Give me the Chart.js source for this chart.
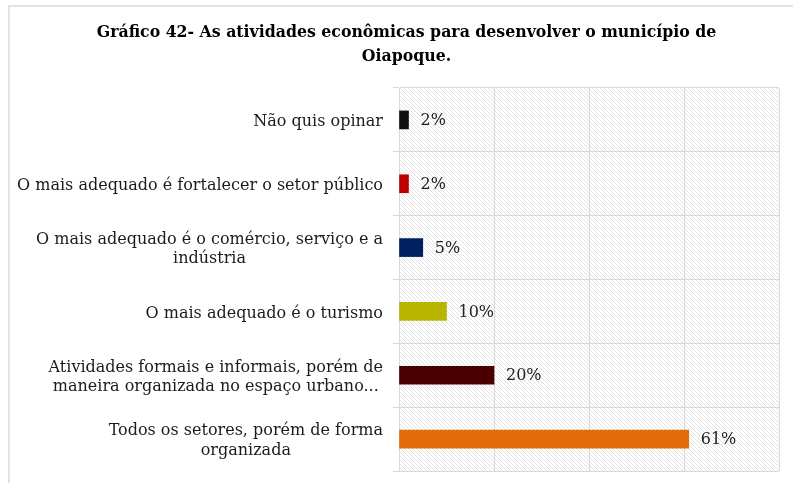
<!DOCTYPE html>
<html>
<head>
<meta charset="utf-8">
<script src="https://cdn.jsdelivr.net/npm/chart.js@4.4.0/dist/chart.umd.min.js"></script>
<style>
  html, body { margin: 0; padding: 0; background: #fff; }
  .frame { position: absolute; left: 8px; top: 5px; width: 820px; height: 520px; border: 2px solid #e3e3e3; }
  #chart { position: absolute; left: 0; top: 0; }
</style>
</head>
<body>
<div class="frame"></div>
<canvas id="chart" width="793" height="483"></canvas>
<script>
// answers, top to bottom
const categories = [
  ['Não quis opinar'],
  ['O mais adequado é fortalecer o setor público'],
  ['O mais adequado é o comércio, serviço e a', 'indústria'],
  ['O mais adequado é o turismo'],
  ['Atividades formais e informais, porém de', 'maneira organizada no espaço urbano...'],
  ['Todos os setores, porém de forma', 'organizada']
];
const percentages = [2, 2, 5, 10, 20, 61];
const barColors = ['#111111', '#c00000', '#002060', '#b9b400', '#4a0000', '#e36c0a'];
const titleLines = ['Gráfico 42- As atividades econômicas para desenvolver o município de', 'Oiapoque.'];

const serif = '"DejaVu Serif", "Liberation Serif", serif';

// diagonal hatch used as plot background
function makeHatch(ctx) {
  const s = 4;
  const tile = document.createElement('canvas');
  tile.width = s; tile.height = s;
  const t = tile.getContext('2d');
  const img = t.createImageData(s, s);
  for (let y = 0; y < s; y++) {
    for (let x = 0; x < s; x++) {
      const i = (y * s + x) * 4;
      const on = (x - y + s) % s === 0;
      const v = on ? 226 : 255;
      img.data[i] = v; img.data[i + 1] = v; img.data[i + 2] = v; img.data[i + 3] = 255;
    }
  }
  t.putImageData(img, 0, 0);
  return ctx.createPattern(tile, 'repeat');
}

const hatchBg = {
  id: 'hatchBg',
  beforeDraw(chart) {
    const { ctx, chartArea: a } = chart;
    ctx.save();
    ctx.fillStyle = makeHatch(ctx);
    ctx.fillRect(a.left, a.top, a.right - a.left, a.bottom - a.top);
    ctx.restore();
  }
};

// category names: block right-aligned, lines centred inside it
const categoryText = {
  id: 'categoryText',
  afterDraw(chart) {
    const { ctx } = chart;
    const yScale = chart.scales.y;
    const right = chart.chartArea.left - 16;
    const lh = 19.5;
    ctx.save();
    ctx.font = '16px ' + serif;
    ctx.fillStyle = '#1b1b1b';
    ctx.textAlign = 'center';
    ctx.textBaseline = 'middle';
    categories.forEach((lines, i) => {
      const y = yScale.getPixelForValue(i) + 2;
      const bw = Math.max(...lines.map(l => ctx.measureText(l).width));
      const cx = right - bw / 2;
      const y0 = y - (lines.length - 1) * lh / 2;
      lines.forEach((l, k) => ctx.fillText(l, cx, y0 + k * lh));
    });
    ctx.restore();
  }
};

// percentage next to each bar
const valueText = {
  id: 'valueText',
  afterDatasetsDraw(chart) {
    const { ctx } = chart;
    const meta = chart.getDatasetMeta(0);
    ctx.save();
    ctx.font = '16px ' + serif;
    ctx.fillStyle = '#222';
    ctx.textAlign = 'left';
    ctx.textBaseline = 'middle';
    meta.data.forEach((bar, i) => {
      ctx.fillText(percentages[i] + '%', bar.x + 12, bar.y + 1);
    });
    ctx.restore();
  }
};

new Chart(document.getElementById('chart'), {
  type: 'bar',
  data: {
    labels: categories,
    datasets: [{
      data: percentages,
      backgroundColor: barColors,
      barThickness: 18
    }]
  },
  options: {
    indexAxis: 'y',
    responsive: false,
    animation: false,
    layout: { padding: { left: 34, right: 14, top: 0, bottom: 12 } },
    plugins: {
      legend: { display: false },
      tooltip: { enabled: false },
      title: {
        display: true,
        text: titleLines,
        color: '#000',
        font: { family: '"DejaVu Serif Condensed", "DejaVu Serif", serif', size: 17.5, weight: 'bold', lineHeight: 1.4 },
        padding: { top: 20, bottom: 19 }
      }
    },
    scales: {
      x: {
        min: 0,
        max: 80,
        ticks: { display: false, stepSize: 20 },
        grid: { color: '#d9d9d9', drawTicks: false },
        border: { display: false },
        afterFit(s) { s.height = 0; }
      },
      y: {
        ticks: { display: false },
        grid: { color: '#d9d9d9', offset: true, tickLength: 6 },
        border: { color: '#d9d9d9' },
        afterFit(s) { s.width = 365; }
      }
    }
  },
  plugins: [hatchBg, categoryText, valueText]
});
</script>
</body>
</html>
